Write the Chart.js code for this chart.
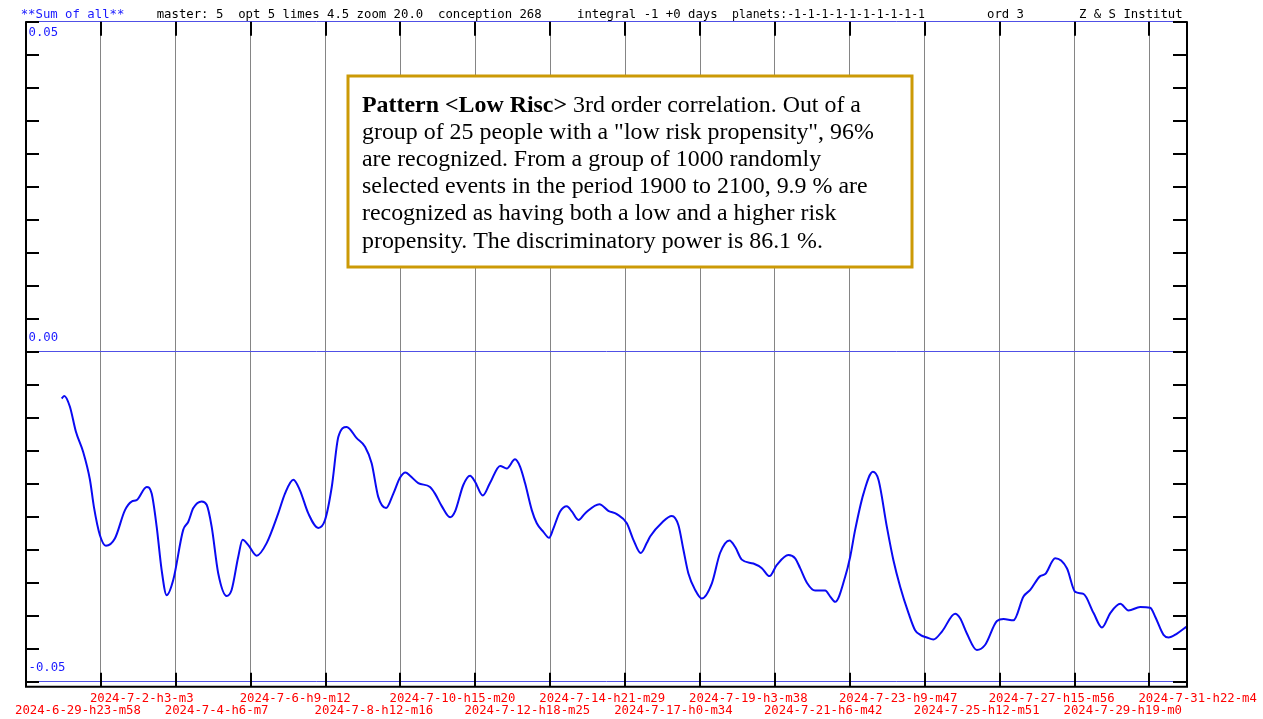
<!DOCTYPE html>
<html><head><meta charset="utf-8">
<script src="https://cdn.jsdelivr.net/npm/chart.js@4.4.0/dist/chart.umd.min.js"></script>
<style>html,body{margin:0;padding:0;background:#fff;overflow:hidden}canvas{display:block}</style>
</head><body>
<canvas id="c" width="1263" height="719"></canvas>
<script>
// ---- data ----
const xTickHours = [0, 51.08, 102.15, 153.23, 204.3, 255.37, 306.45, 357.52, 408.6, 459.67, 510.73, 561.82, 612.88, 663.97, 715.03, 766.1];
const xTickLabels = ['2024-6-29-h23-m58','2024-7-2-h3-m3','2024-7-4-h6-m7','2024-7-6-h9-m12','2024-7-8-h12-m16','2024-7-10-h15-m20','2024-7-12-h18-m25','2024-7-14-h21-m29','2024-7-17-h0-m34','2024-7-19-h3-m38','2024-7-21-h6-m42','2024-7-23-h9-m47','2024-7-25-h12-m51','2024-7-27-h15-m56','2024-7-29-h19-m0','2024-7-31-h22-m4'];
const yTickLabelValues = [0.05, 0, -0.05];
const yTickLabelTexts = ['0.05', '0.00', '-0.05'];
const xHours = [24.3,26.1,29.9,34.0,39.0,43.6,46.3,50.4,54.5,60.6,67.5,72.0,75.4,82.3,85.7,89.1,92.5,95.9,100.4,107.2,110.6,114.1,119.8,123.2,126.6,131.1,136.8,140.2,144.7,147.7,151.6,157.3,164.1,172.0,176.6,182.3,186.8,192.5,199.3,203.9,208.5,213.0,218.7,225.5,231.2,235.7,240.2,245.5,250.5,255.0,258.8,261.9,267.5,275.5,278.9,283.5,289.2,292.6,298.2,302.8,306.2,311.5,316.4,323.3,327.8,333.5,336.9,340.3,344.9,348.3,352.8,356.7,359.6,364.2,368.8,372.2,376.7,381.2,391.0,397.1,402.9,409.7,414.2,419.2,423.3,425.6,433.6,440.4,444.9,448.3,451.7,456.3,460.8,467.7,473.3,479.7,483.6,488.1,496.0,501.8,507.0,512.0,519.9,524.5,527.9,532.5,538.1,545.0,548.4,551.8,558.6,562.0,565.4,571.1,577.5,581.3,587.0,591.5,596.1,601.8,606.3,609.8,614.3,618.8,624.6,633.6,637.0,641.6,648.4,654.1,662.1,666.6,673.4,680.2,684.8,691.6,695.0,701.8,709.8,715.5,721.1,728.0,733.7,739.4,746.2,751.8,759.8,766.6,770.1,775.7,779.1,784.9,791.7];
const sumValues = [-0.0071,-0.0067,-0.0083,-0.0121,-0.0152,-0.0194,-0.0235,-0.0278,-0.0294,-0.0283,-0.0240,-0.0227,-0.0225,-0.0205,-0.0215,-0.0265,-0.0331,-0.0369,-0.0346,-0.0270,-0.0258,-0.0237,-0.0227,-0.0232,-0.0265,-0.0336,-0.0370,-0.0361,-0.0311,-0.0285,-0.0293,-0.0309,-0.0290,-0.0245,-0.0215,-0.0194,-0.0210,-0.0245,-0.0267,-0.0255,-0.0205,-0.0129,-0.0114,-0.0131,-0.0144,-0.0169,-0.0220,-0.0237,-0.0215,-0.0191,-0.0183,-0.0188,-0.0199,-0.0205,-0.0215,-0.0234,-0.0251,-0.0242,-0.0202,-0.0188,-0.0197,-0.0218,-0.0199,-0.0173,-0.0177,-0.0163,-0.0174,-0.0199,-0.0240,-0.0260,-0.0273,-0.0282,-0.0268,-0.0242,-0.0234,-0.0242,-0.0255,-0.0245,-0.0231,-0.0241,-0.0246,-0.0260,-0.0285,-0.0305,-0.0290,-0.0280,-0.0259,-0.0249,-0.0263,-0.0300,-0.0336,-0.0361,-0.0374,-0.0351,-0.0305,-0.0286,-0.0296,-0.0315,-0.0321,-0.0328,-0.0340,-0.0323,-0.0308,-0.0313,-0.0328,-0.0350,-0.0362,-0.0362,-0.0371,-0.0379,-0.0341,-0.0311,-0.0270,-0.0215,-0.0182,-0.0194,-0.0265,-0.0316,-0.0356,-0.0396,-0.0422,-0.0429,-0.0433,-0.0436,-0.0424,-0.0397,-0.0404,-0.0427,-0.0452,-0.0444,-0.0408,-0.0405,-0.0407,-0.0371,-0.0361,-0.0340,-0.0337,-0.0313,-0.0328,-0.0364,-0.0367,-0.0396,-0.0418,-0.0396,-0.0382,-0.0392,-0.0387,-0.0388,-0.0402,-0.0429,-0.0433,-0.0427,-0.0416];
const headerTitle = '**Sum of all**';
const headerParams = ['master: 5  opt 5 limes 4.5 zoom 20.0  conception 268', 'integral -1 +0 days', 'planets:-1-1-1-1-1-1-1-1-1-1', 'ord 3', 'Z & S Institut'];
const noteBold = 'Pattern <Low Risc>';
const noteLines = [' 3rd order correlation. Out of a', 'group of 25 people with a "low risk propensity", 96%', 'are recognized. From a group of 1000 randomly', 'selected events in the period 1900 to 2100, 9.9 % are', 'recognized as having both a low and a higher risk', 'propensity. The discriminatory power is 86.1 %.'];

// ---- styles ----
const MONO = '"DejaVu Sans Mono", monospace';
const SERIF = '"Liberation Serif", "Times New Roman", serif';
const BLUE_LINE = '#5050e6';
const LABEL_BLUE = '#1a1aff';

const isMajor = v => Math.abs(v) < 1e-9 || Math.abs(Math.abs(v) - 0.05) < 1e-9;

const framePlugin = {
  id: 'frame',
  afterDraw(chart) {
    const {ctx, chartArea: a, scales: {x, y}} = chart;
    ctx.save();
    ctx.strokeStyle = '#000';
    ctx.lineWidth = 2;
    // axes
    ctx.beginPath();
    ctx.moveTo(a.left, a.top - 0.5); ctx.lineTo(a.left, a.bottom + 6);
    ctx.moveTo(a.right, a.top - 0.5); ctx.lineTo(a.right, a.bottom + 6);
    ctx.moveTo(a.left - 1, a.bottom + 5); ctx.lineTo(a.right + 1, a.bottom + 5);
    ctx.stroke();
    // y tick marks inside, both sides
    ctx.beginPath();
    y.ticks.forEach(t => {
      const py = Math.round(y.getPixelForValue(t.value));
      ctx.moveTo(a.left, py); ctx.lineTo(a.left + 13, py);
      ctx.moveTo(a.right - 14, py); ctx.lineTo(a.right, py);
    });
    // x tick marks top & bottom
    x.ticks.forEach(t => {
      const px = Math.round(x.getPixelForValue(t.value));
      ctx.moveTo(px, a.top); ctx.lineTo(px, a.top + 14);
      ctx.moveTo(px, a.bottom - 9); ctx.lineTo(px, a.bottom + 5);
    });
    ctx.stroke();
    // y labels
    ctx.fillStyle = LABEL_BLUE;
    ctx.font = '12.3px ' + MONO;
    ctx.textBaseline = 'middle';
    ctx.textAlign = 'left';
    yTickLabelValues.forEach((v, i) => {
      const py = y.getPixelForValue(v);
      const off = v > 0 ? 11.5 : -14;
      ctx.fillText(yTickLabelTexts[i], a.left + 2.5, py + off);
    });
    // header
    ctx.textBaseline = 'alphabetic';
    ctx.fillStyle = LABEL_BLUE;
    ctx.fillText(headerTitle, 20.7, 18);
    ctx.fillStyle = '#000';
    const hx = [156.7, 577, 732, 987, 1079];
    headerParams.forEach((t, i) => {
      if (i === 2) ctx.fillText(t, hx[i], 18, 193); else ctx.fillText(t, hx[i], 18);
    });
    // note box
    const bx = 348, by = 76, bw = 564, bh = 191;
    ctx.fillStyle = '#fff';
    ctx.fillRect(bx, by, bw, bh);
    ctx.strokeStyle = '#cc9a06';
    ctx.lineWidth = 3;
    ctx.strokeRect(bx, by, bw, bh);
    ctx.fillStyle = '#000';
    const tx = 362, ty = 112, lh = 27.1;
    ctx.font = 'bold 23.9px ' + SERIF;
    ctx.fillText(noteBold, tx, ty);
    const bw0 = ctx.measureText(noteBold).width;
    ctx.font = '23.9px ' + SERIF;
    ctx.fillText(noteLines[0], tx + bw0, ty);
    for (let i = 1; i < noteLines.length; i++) ctx.fillText(noteLines[i], tx, ty + lh * i);
    ctx.restore();
  }
};

new Chart(document.getElementById('c'), {
  type: 'line',
  data: {
    datasets: [{
      data: xHours.map((h, i) => ({x: h, y: sumValues[i]})),
      borderColor: '#0a0af2',
      borderWidth: 2,
      pointRadius: 0,
      fill: false,
      cubicInterpolationMode: 'monotone'
    }]
  },
  options: {
    responsive: false,
    animation: false,
    devicePixelRatio: 1,
    layout: {padding: {left: 26, right: 76, top: 21.7, bottom: 0}, autoPadding: false},
    plugins: {legend: {display: false}, tooltip: {enabled: false}},
    scales: {
      x: {
        type: 'linear', min: 0, max: 791.7,
        afterBuildTicks: s => { s.ticks = xTickHours.map(v => ({value: v})); },
        afterFit: s => { s.height = 37.3; s.paddingLeft = 0; s.paddingRight = 0; },
        grid: {color: '#858585', lineWidth: 1, drawTicks: false},
        border: {display: false},
        ticks: {
          autoSkip: false, maxRotation: 0, minRotation: 0, align: 'start', labelOffset: -11, padding: 11,
          color: '#ff0000', font: {family: MONO, size: 12.3, lineHeight: 1.0},
          callback: (v, i) => i % 2 === 0 ? ['', xTickLabels[i]] : [xTickLabels[i], '']
        }
      },
      y: {
        min: -0.05, max: 0.05,
        afterFit: s => { s.width = 0; },
        ticks: {display: false, stepSize: 0.005},
        border: {display: false},
        grid: {drawTicks: false, lineWidth: 1, color: c => isMajor(c.tick.value) ? BLUE_LINE : 'rgba(0,0,0,0)'}
      }
    }
  },
  plugins: [framePlugin]
});
</script>
</body></html>
